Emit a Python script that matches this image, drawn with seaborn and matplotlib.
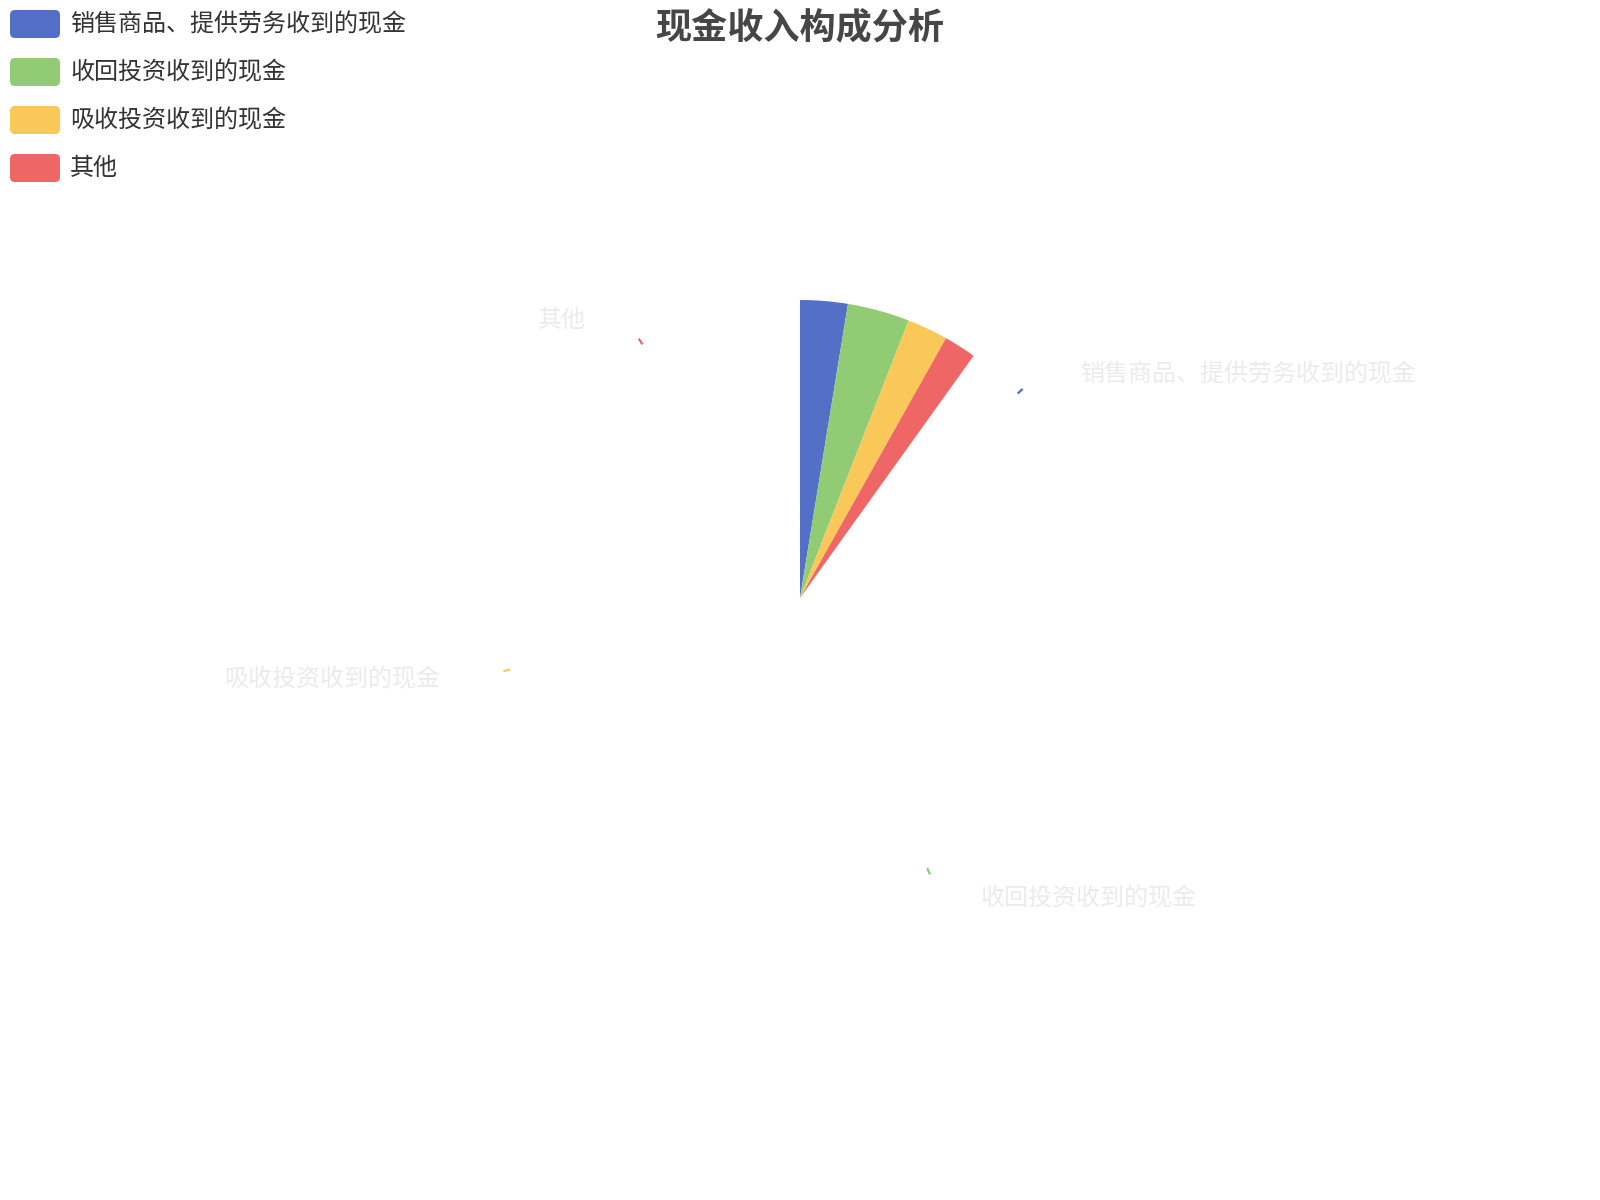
import numpy as np
import matplotlib.pyplot as plt
import seaborn as sns
from matplotlib.patches import FancyBboxPatch

# === Data ===
categories = ["销售商品、提供劳务收到的现金", "收回投资收到的现金", "吸收投资收到的现金", "其他"]
values = [26.0, 34.0, 22.3, 17.7]
colors = ["#5470c6", "#91cc75", "#fac858", "#ee6666"]
title = "现金收入构成分析"
progress = 0.099  # snapshot taken early in the opening animation

sns.set_theme(style="white")
plt.rcParams['font.family'] = ['Noto Sans CJK SC', 'DejaVu Sans']

W, H = 1600, 1200
fig = plt.figure(figsize=(16, 12), dpi=100)
ax = fig.add_axes([0, 0, 1, 1])

cx, cy, R = 800, H - 598, 298
vals = np.array(values)
shares = vals / vals.sum()

# === Pie (partially swept) ===
ax.pie(shares * progress, colors=colors, startangle=90, counterclock=False,
       radius=R, center=(cx, cy), normalize=False,
       wedgeprops=dict(linewidth=0))

# === Labels at their final positions ===
cum = np.cumsum(shares) - shares / 2
for cat, col, mid in zip(categories, colors, cum):
    th = np.deg2rad(90 - 360 * mid)
    c, s = np.cos(th), np.sin(th)
    ax.plot([cx + 1.002 * R * c, cx + 1.025 * R * c],
            [cy + 1.002 * R * s, cy + 1.025 * R * s],
            color=col, lw=1.6, solid_capstyle="butt")
    ex, ey = cx + 1.107 * R * c, cy + 1.107 * R * s - 2
    if c >= 0:
        ax.text(ex + 40, ey, cat, ha="left", va="center", fontsize=17.3, color="#ebebeb")
    else:
        ax.text(ex - 40, ey, cat, ha="right", va="center", fontsize=17.3, color="#ebebeb")

# === Legend ===
for i, (cat, col) in enumerate(zip(categories, colors)):
    yc = H - (24 + 48 * i)
    ax.add_patch(FancyBboxPatch((10, yc - 14), 50, 28,
                                boxstyle="round,pad=0,rounding_size=5",
                                facecolor=col, edgecolor="none"))
    ax.text(70, yc, cat, ha="left", va="center", fontsize=17.3, color="#333333")

# === Title ===
ax.text(800, H - 28, title, ha="center", va="center", fontsize=26,
        fontweight="bold", color="#464646")

ax.set_xlim(0, W)
ax.set_ylim(0, H)
ax.set_aspect("equal")
ax.axis("off")

plt.savefig("out.png", dpi=100)
plt.close()
